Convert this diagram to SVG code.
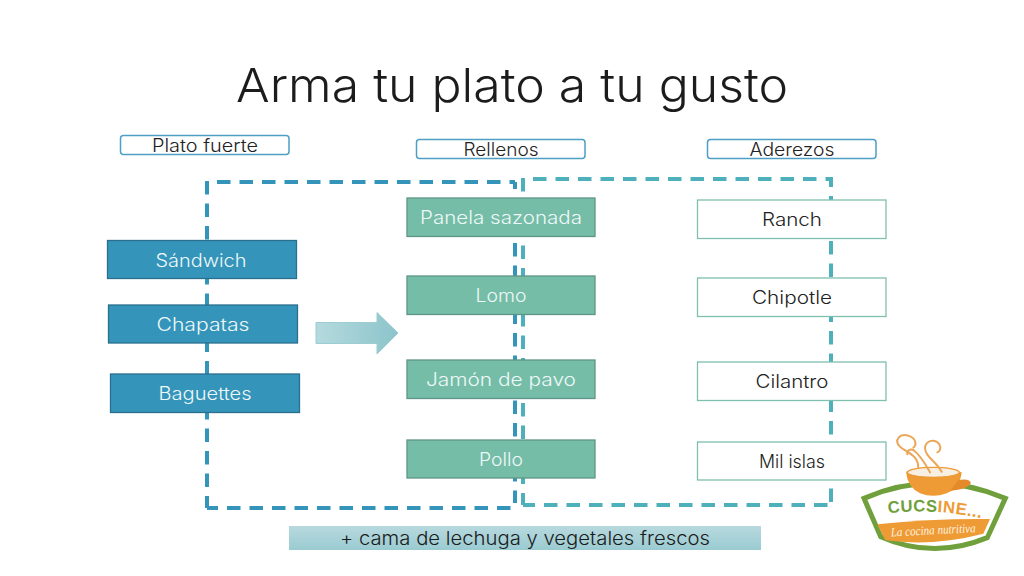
<svg xmlns="http://www.w3.org/2000/svg" width="1024" height="576" viewBox="0 0 1024 576">
<defs>
<linearGradient id="arrowFill" x1="0" y1="0" x2="1" y2="0"><stop offset="0" stop-color="#b5dade"/><stop offset="1" stop-color="#8cc4cb"/></linearGradient>
<linearGradient id="barFill" x1="0" y1="0" x2="0" y2="1"><stop offset="0" stop-color="#b7d9de"/><stop offset="1" stop-color="#9acbd2"/></linearGradient>
<path id="cucArc" d="M38 278Q250 232 470 300"/>
</defs>
<style>
text{font-family:"Inter","Liberation Sans",sans-serif;text-anchor:middle;font-weight:300}
.hdr rect{fill:#fff;stroke:#4d9fc4;stroke-width:1.5}
.hdr text{font-size:18px;fill:#222}
.blue rect{fill:#3494ba;stroke:#2a6f8e;stroke-width:1.3}
.green rect{fill:#75bda7;stroke:#5f9586;stroke-width:1.3}
.blue text,.green text{font-size:18px;fill:#eef8f8}
.white rect{fill:#fff;stroke:#7fbfb0;stroke-width:1.3}
.white text{font-size:18px;fill:#222}
.dash{fill:none;stroke-width:4;stroke-dasharray:13.5 9}
.b{stroke:#3494ba}
.t{stroke:#4db0ba}
.steam{fill:none;stroke:#eca657;stroke-width:6;stroke-linecap:round}
</style>
<rect width="1024" height="576" fill="#fff"/>
<text id="title" x="512" y="102" font-size="47" fill="#1c1c1c" textLength="552" lengthAdjust="spacingAndGlyphs">Arma tu plato a tu gusto</text>
<g id="connectors">
<path class="dash b" d="M207 181V508"/>
<path class="dash b" stroke-dashoffset="2.500" d="M207 508H511"/>
<path class="dash b" d="M217 182H515"/>
<path class="dash b" stroke-dashoffset="6.500" d="M515 182V503"/>
<path class="dash t" d="M523 178V505"/>
<path class="dash t" stroke-dashoffset="1.500" d="M523 505H831"/>
<path class="dash t" d="M533 179H831V505"/>
</g>
<g id="h1" class="hdr"><rect x="120.500" y="135.500" width="168.500" height="19" rx="3"/><text x="205" y="152" textLength="106" lengthAdjust="spacingAndGlyphs">Plato fuerte</text></g>
<g id="h2" class="hdr"><rect x="416.500" y="139.500" width="168.500" height="19" rx="3"/><text x="501" y="156" textLength="75" lengthAdjust="spacingAndGlyphs">Rellenos</text></g>
<g id="h3" class="hdr"><rect x="707.500" y="139.500" width="168.500" height="19" rx="3"/><text x="792" y="156" textLength="85" lengthAdjust="spacingAndGlyphs">Aderezos</text></g>
<g id="n-sandwich" class="blue"><rect x="107.500" y="240.500" width="189" height="38"/><text x="201" y="267" textLength="91" lengthAdjust="spacingAndGlyphs">Sándwich</text></g>
<g id="n-chapatas" class="blue"><rect x="108.500" y="305" width="189" height="38"/><text x="203" y="331" textLength="93" lengthAdjust="spacingAndGlyphs">Chapatas</text></g>
<g id="n-baguettes" class="blue"><rect x="110.500" y="374" width="189" height="38.500"/><text x="205" y="400" textLength="93" lengthAdjust="spacingAndGlyphs">Baguettes</text></g>
<g id="n-arrow"><path d="M316 322.500H377V312.500L398 333L377 354V343.500H316Z" fill="url(#arrowFill)" stroke="#9ccdd3" stroke-width="1"/></g>
<g id="n-panela" class="green"><rect x="407" y="198" width="188" height="38.500"/><text x="501" y="224" textLength="162" lengthAdjust="spacingAndGlyphs">Panela sazonada</text></g>
<g id="n-lomo" class="green"><rect x="407" y="276" width="188" height="38.500"/><text x="501" y="302" textLength="51" lengthAdjust="spacingAndGlyphs">Lomo</text></g>
<g id="n-jamon" class="green"><rect x="407" y="360" width="188" height="38.500"/><text x="501" y="386" textLength="150" lengthAdjust="spacingAndGlyphs">Jamón de pavo</text></g>
<g id="n-pollo" class="green"><rect x="407" y="440" width="188" height="38"/><text x="501" y="466" textLength="44" lengthAdjust="spacingAndGlyphs">Pollo</text></g>
<g id="n-ranch" class="white"><rect x="697.500" y="200" width="188.500" height="38.500"/><text x="792" y="226" textLength="60" lengthAdjust="spacingAndGlyphs">Ranch</text></g>
<g id="n-chipotle" class="white"><rect x="697.500" y="278" width="188.500" height="38.500"/><text x="792" y="304" textLength="80" lengthAdjust="spacingAndGlyphs">Chipotle</text></g>
<g id="n-cilantro" class="white"><rect x="697.500" y="362" width="188.500" height="38.500"/><text x="792" y="388" textLength="73" lengthAdjust="spacingAndGlyphs">Cilantro</text></g>
<g id="n-milislas" class="white"><rect x="697.500" y="442" width="188.500" height="38"/><text x="792" y="468" textLength="66" lengthAdjust="spacingAndGlyphs">Mil islas</text></g>
<g id="n-bar"><rect x="289" y="526" width="472" height="24" fill="url(#barFill)"/><text x="525" y="545" font-size="18.500" fill="#1c1c1c" textLength="370" lengthAdjust="spacingAndGlyphs">+ cama de lechuga y vegetales frescos</text></g>
<g id="logo" transform="translate(850 425) scale(.33333)">
<path d="M42 220Q250 130 466 220L412 338Q250 405 92 335Z" fill="#fff" stroke="#6fa03c" stroke-width="15" stroke-linejoin="miter"/>
<path d="M82 298Q250 280 420 282L400 326Q250 365 106 346Z" fill="#ee9a35"/>
<path d="M168 140Q250 115 335 142Q330 190 290 205Q250 220 210 205Q172 185 168 140Z" fill="#ee9a35"/>
<path d="M325 165Q362 160 362 175Q355 192 300 198Z" fill="#e58a2a"/>
<ellipse cx="250" cy="142" rx="78" ry="15" fill="#f6efe2" stroke="#ee9a35" stroke-width="4"/>
<path class="steam" d="M205 130C205 90 175 85 150 65C130 45 150 25 175 32C200 40 200 60 190 68"/>
<path class="steam" d="M275 140C255 105 225 95 225 68C228 45 255 40 268 58C275 70 268 80 262 82"/>
<path class="steam" d="M240 142C225 115 205 85 190 75C180 70 170 78 172 88"/>
<text font-size="50" letter-spacing="1.500" style="font-family:'Liberation Sans',sans-serif;font-weight:700"><textPath href="#cucArc" startOffset="50%"><tspan fill="#6fa03c">CUCS</tspan><tspan fill="#ee9a35">INE...</tspan></textPath></text>
<text x="250" y="328" font-size="38" fill="#fff4e0" textLength="255" lengthAdjust="spacingAndGlyphs" transform="rotate(-3 250 328)" style="font-family:'Liberation Serif',serif;font-style:italic;font-weight:400">La cocina nutritiva</text>
</g>
</svg>
